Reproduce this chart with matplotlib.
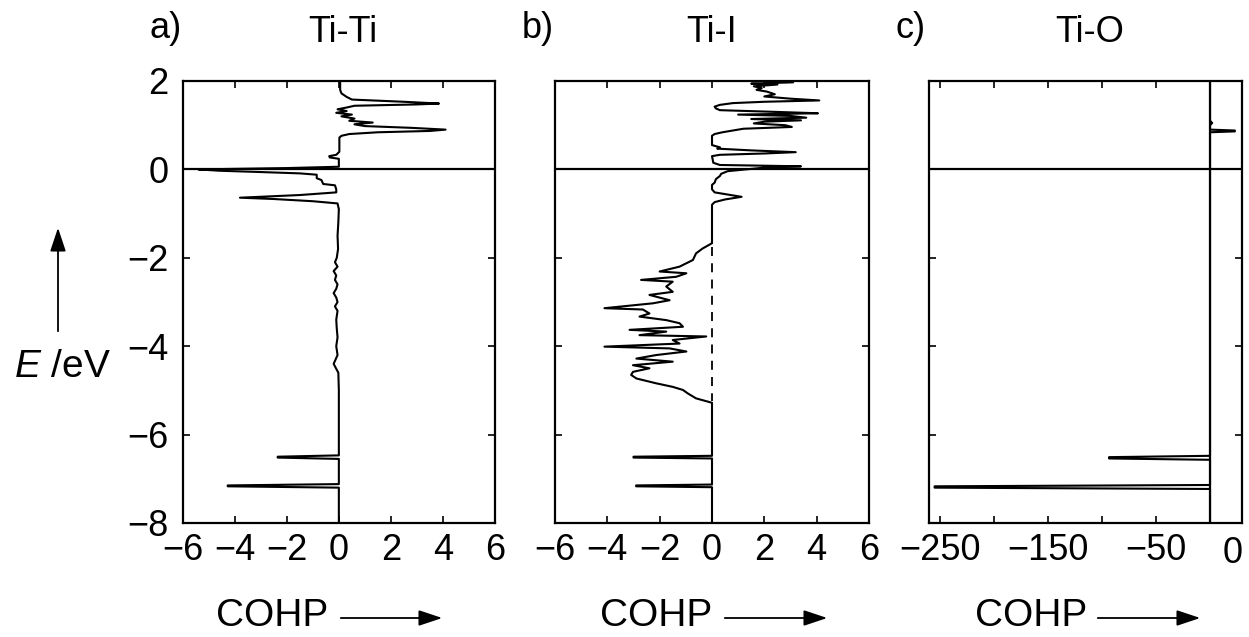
import matplotlib
matplotlib.use("Agg")
import matplotlib.pyplot as plt

plt.rcParams['font.family'] = ['Liberation Sans', 'DejaVu Sans']
plt.rcParams['mathtext.fontset'] = 'custom'
plt.rcParams['mathtext.rm'] = 'Liberation Sans'
plt.rcParams['mathtext.it'] = 'Liberation Sans:italic'

# Ti-Ti COHP (energy in eV, COHP value)
titi_E = [2.0, 1.80, 1.72, 1.64, 1.58, 1.53, 1.49, 1.47, 1.44, 1.40,
          1.36, 1.32, 1.28, 1.24, 1.20, 1.15, 1.10, 1.06, 1.02, 0.98,
          0.94, 0.90, 0.87, 0.84, 0.80, 0.76, 0.72, 0.40, 0.33, 0.30,
          0.27, 0.24, 0.06, 0.03, 0.00, -0.03, -0.06, -0.09, -0.12, -0.20,
          -0.24, -0.33, -0.36, -0.45, -0.52, -0.58, -0.64, -0.67, -0.72, -0.77,
          -0.9, -1.2, -1.5, -1.8, -2.0, -2.1, -2.2, -2.3, -2.4, -2.5,
          -2.6, -2.7, -2.8, -2.9, -3.0, -3.1, -3.2, -3.4, -3.6, -3.8,
          -4.0, -4.2, -4.4, -4.6, -5.0, -6.47, -6.50, -6.52, -6.55, -7.12,
          -7.15, -7.17, -7.20, -8.0]
titi_cohp = [0.05, 0.05, 0.1, 0.3, 0.5, 2.5, 3.85, 3.0, 0.6, 0.3,
             -0.05, 0.3, -0.1, 0.5, 0.1, 0.6, 0.4, 1.3, 0.6, 1.0,
             2.8, 4.1, 3.5, 1.5, 0.4, 0.1, 0.02, 0.02, -0.1, -0.37,
             -0.35, 0.0, 0.0, -2.0, -5.4, -4.6, -3.0, -1.5, -0.85, -0.85,
             -0.67, -0.6, -0.15, -0.1, -0.1, -1.5, -3.8, -2.5, -1.0, -0.05,
             0.0, -0.02, -0.05, -0.03, -0.08, -0.15, -0.05, -0.2, -0.1, -0.15,
             -0.05, -0.1, -0.2, -0.1, -0.05, -0.15, -0.05, -0.1, -0.08, -0.05,
             -0.1, -0.05, -0.2, -0.02, 0.0, 0.0, -2.35, -2.35, 0.0, 0.0,
             -4.27, -4.27, 0.0, 0.0]

# Ti-I COHP
tii_E = [2.0, 1.97, 1.94, 1.92, 1.88, 1.84, 1.80, 1.76, 1.70, 1.65,
         1.60, 1.56, 1.53, 1.50, 1.46, 1.42, 1.38, 1.34, 1.30, 1.27,
         1.24, 1.21, 1.17, 1.14, 1.11, 1.08, 1.04, 1.00, 0.96, 0.92,
         0.88, 0.84, 0.80, 0.76, 0.55, 0.50, 0.47, 0.43, 0.39, 0.36,
         0.33, 0.30, 0.15, 0.10, 0.07, 0.04, 0.00, -0.04, -0.10, -0.15,
         -0.22, -0.30, -0.35, -0.45, -0.52, -0.62, -0.68, -0.74, -0.80, -1.67,
         -1.79, -1.90, -2.05, -2.20, -2.31, -2.35, -2.43, -2.50, -2.54, -2.65,
         -2.77, -2.84, -2.96, -3.03, -3.14, -3.17, -3.26, -3.33, -3.41, -3.48,
         -3.56, -3.63, -3.67, -3.75, -3.78, -3.86, -3.94, -4.01, -4.05, -4.12,
         -4.20, -4.28, -4.35, -4.43, -4.50, -4.58, -4.65, -4.73, -4.84, -4.92,
         -4.99, -5.07, -5.18, -5.28, -6.48, -6.50, -6.52, -6.54, -7.13, -7.15,
         -7.17, -7.19, -8.0]
tii_cohp = [2.0, 3.1, 1.5, 2.5, 1.6, 1.9, 1.7, 2.1, 2.4, 2.0,
            3.0, 4.1, 2.0, 0.8, 0.3, 0.1, 0.15, 0.3, 2.5, 4.05,
            1.0, 3.0, 3.6, 1.5, 3.4, 2.0, 1.6, 2.8, 3.05, 1.2,
            0.8, 0.4, 0.1, 0.0, 0.0, 0.3, 0.2, 1.5, 3.2, 2.0,
            0.3, 0.0, 0.05, 0.3, 3.4, 2.0, 1.3, 0.6, 0.35, 0.3,
            0.15, 0.1, 0.0, 0.0, 0.1, 1.13, 0.5, 0.1, 0.0, 0.0,
            -0.36, -0.61, -0.73, -1.24, -2.0, -0.98, -1.37, -2.71, -1.5, -1.75,
            -1.5, -2.39, -1.62, -2.26, -4.11, -2.64, -2.39, -2.77, -1.75, -1.24,
            -1.11, -3.15, -1.75, -2.77, -0.22, -1.5, -1.24, -4.11, -1.62, -0.98,
            -2.13, -2.89, -1.5, -3.02, -2.39, -3.02, -3.09, -2.89, -2.13, -1.5,
            -1.11, -0.92, -0.61, 0.0, 0.0, -3.0, -3.0, 0.0, 0.0, -2.9,
            -2.9, 0.0, 0.0]
tii_dash_E = [-1.75, -5.25]

# Ti-O COHP
tio_E = [2.0, 1.10, 1.05, 1.00, 0.90, 0.88, 0.86, 0.84, 0.80,
         -6.48, -6.51, -6.54, -6.57, -7.14, -7.17, -7.20, -7.23, -8.0]
tio_cohp = [0, 0, 2, 0, 0, 23, 23, 0, 0,
            0, -93.5, -93.5, 0, 0, -255, -255, 0, 0]

W, H = 1249, 637
fig = plt.figure(figsize=(W / 100, H / 100), dpi=100)


def fx(px):
    return px / W


def fy(py):
    return 1 - py / H


fs = 26
fs_big = 28
lw_frame = 1.6
lw_curve = 1.5

panels = [
    (182.7, 312.3, titi_E, titi_cohp, (-6, 6), "a)", "Ti-Ti", 343),
    (555.0, 314.0, tii_E, tii_cohp, (-6, 6), "b)", "Ti-I", 712),
    (929.0, 313.0, tio_E, tio_cohp, (-260.2, 29.6), "c)", "Ti-O", 1090),
]

axes = []
for i, (left, width, E, cohp, xl, tag, name, tx) in enumerate(panels):
    ax = fig.add_axes([fx(left), fy(523), fx(width), (523 - 81) / H])
    ax.plot(cohp, E, color="black", lw=lw_curve)
    ax.axhline(0, color="black", lw=lw_frame)
    ax.set_xlim(xl)
    ax.set_ylim(-8, 2)
    ax.set_yticks([2, 0, -2, -4, -6, -8])
    for s in ax.spines.values():
        s.set_linewidth(lw_frame)
    ax.tick_params(direction="in", top=True, right=True, length=5, width=1.2,
                   labelsize=fs)
    ax.tick_params(axis="x", pad=7)
    ax.tick_params(axis="y", pad=10)
    if i > 0:
        ax.tick_params(labelleft=False)
    else:
        ax.set_yticklabels(["2", "0", "\u22122", "\u22124", "\u22126", "\u22128"])
    if i < 2:
        ax.set_xticks([-6, -4, -2, 0, 2, 4, 6])
        ax.set_xticklabels(["\u22126", "\u22124", "\u22122", "0", "2", "4", "6"])
    axes.append(ax)

    fig.text(fx(left - 33), fy(29), tag, fontsize=fs, ha="left", va="center")
    fig.text(fx(tx), fy(33), name, fontsize=fs, ha="center", va="center")

# dashed zero line for Ti-I
axes[1].plot([0, 0], tii_dash_E, color="black", lw=1.3, ls=(0, (5, 4)))

# Ti-O axis
axc = axes[2]
axc.axvline(0, color="black", lw=lw_frame)
axc.set_xticks([-250, -200, -150, -100, -50])
axc.set_xticklabels(["\u2212250", "", "\u2212150", "", "\u221250"])
axc.text(21, -8.3, "0", fontsize=fs, ha="center", va="top",
         transform=axc.transData)

# COHP labels with arrows
for tx, a0, a1 in [(272, 338, 445), (656, 722, 830), (1031, 1095, 1203)]:
    fig.text(fx(tx), fy(616), "COHP", fontsize=fs_big, ha="center", va="center")
    fig.patches.append(matplotlib.patches.FancyArrowPatch(
        (fx(a0), fy(618)), (fx(a1), fy(618)), transform=fig.transFigure,
        arrowstyle="-|>,head_length=0.9,head_width=0.3", mutation_scale=16,
        color="black", lw=1.3))

# E axis label
fig.text(fx(62), fy(367), "$E$ /eV", fontsize=fs_big, ha="center", va="center")
fig.patches.append(matplotlib.patches.FancyArrowPatch(
    (fx(58), fy(334)), (fx(58), fy(225)), transform=fig.transFigure,
    arrowstyle="-|>,head_length=0.9,head_width=0.3", mutation_scale=16,
    color="black", lw=1.3))

fig.savefig("out.png", dpi=100)
